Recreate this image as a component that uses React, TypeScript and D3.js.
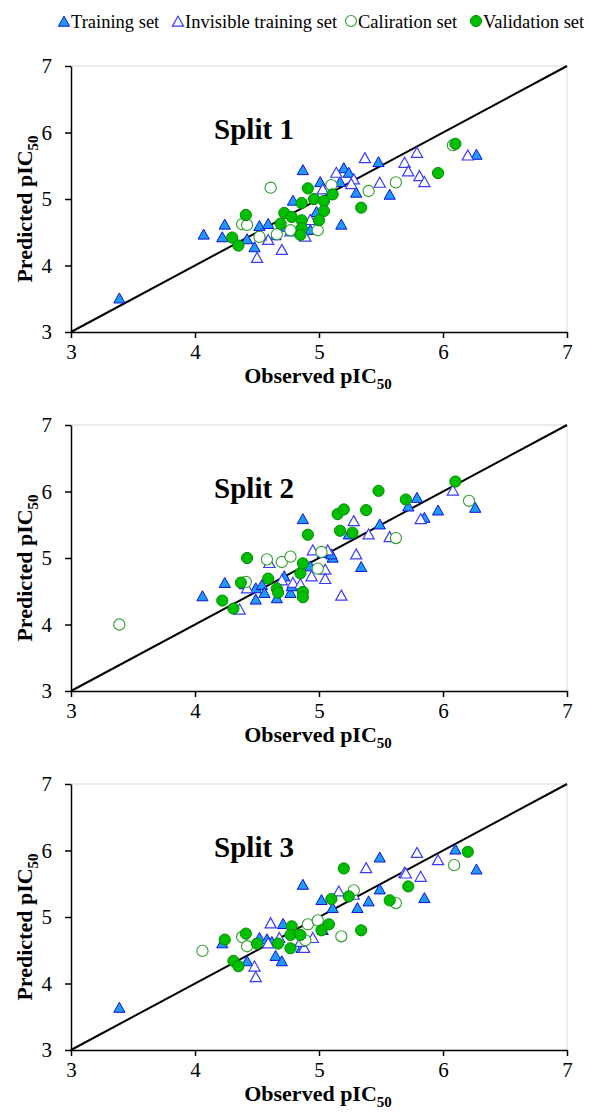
import React, { useEffect, useRef } from "react";
import * as d3 from "d3";

// [observed, predicted] pairs
const split1Training = [[3.39,3.50],[4.07,4.46],[4.24,4.61],[4.22,4.42],[4.42,4.39],[4.48,4.27],[4.52,4.59],[4.59,4.62],[4.65,4.45],[4.79,4.97],[4.87,5.43],[4.93,4.53],[5.01,5.25],[5.18,4.61],[5.17,5.25],[5.20,5.46],[5.24,5.39],[5.30,5.09],[5.48,5.55],[5.57,5.06],[6.27,5.66],[4.70,4.58],[4.98,4.80]];
const split1Invisible = [[4.50,4.11],[4.70,4.23],[4.59,4.38],[4.77,4.51],[4.89,4.43],[4.93,4.68],[5.03,5.14],[5.14,5.39],[5.28,5.29],[5.37,5.61],[5.49,5.24],[5.69,5.54],[5.72,5.41],[5.79,5.69],[5.81,5.34],[5.85,5.25],[6.20,5.65],[4.53,4.45],[5.26,5.22]];
const split1Calibration = [[4.61,5.17],[4.38,4.62],[4.42,4.61],[4.52,4.43],[4.66,4.47],[4.77,4.53],[4.99,4.53],[5.10,5.21],[5.40,5.12],[5.62,5.25],[6.08,5.81]];
const split1Validation = [[4.30,4.42],[4.35,4.30],[4.41,4.76],[4.69,4.63],[4.72,4.79],[4.78,4.73],[4.86,4.94],[4.86,4.68],[4.86,4.56],[4.85,4.46],[4.91,5.16],[4.96,5.00],[5.04,4.97],[5.11,5.07],[5.04,4.82],[5.00,4.68],[5.34,4.87],[5.96,5.39],[6.10,5.83]];

const split2Training = [[4.06,4.42],[4.24,4.62],[4.49,4.37],[4.49,4.54],[4.54,4.59],[4.56,4.47],[4.66,4.39],[4.72,4.72],[4.77,4.47],[4.78,4.57],[4.87,5.58],[4.93,4.87],[5.03,5.07],[5.11,5.00],[5.10,5.05],[5.34,4.86],[5.24,5.35],[5.49,5.50],[5.79,5.90],[5.72,5.77],[5.96,5.71],[5.85,5.60],[6.26,5.75],[4.40,4.60]];
const split2Invisible = [[4.36,4.22],[4.42,4.54],[4.60,4.92],[4.79,4.62],[4.94,4.72],[4.95,5.11],[5.05,4.82],[5.05,4.68],[5.07,5.11],[5.18,4.43],[5.28,5.55],[5.30,5.05],[5.40,5.35],[5.57,5.31],[5.82,5.58],[6.08,6.01],[4.70,4.66],[4.85,4.60]];
const split2Calibration = [[3.39,4.00],[4.41,4.64],[4.58,4.98],[4.70,4.94],[4.77,5.02],[4.99,4.84],[5.02,5.09],[5.62,5.30],[6.21,5.86]];
const split2Validation = [[4.22,4.36],[4.31,4.24],[4.42,5.00],[4.37,4.63],[4.59,4.69],[4.66,4.54],[4.67,4.48],[4.85,4.77],[4.87,4.92],[4.87,4.49],[4.87,4.41],[4.91,5.35],[5.15,5.66],[5.20,5.73],[5.17,5.41],[5.27,5.38],[5.38,5.72],[5.48,6.01],[5.70,5.88],[6.10,6.15]];

const split3Training = [[3.39,3.63],[4.22,4.60],[4.42,4.33],[4.52,4.68],[4.58,4.66],[4.65,4.41],[4.70,4.33],[4.71,4.89],[4.87,5.48],[4.86,4.53],[5.02,5.25],[5.11,5.13],[5.40,5.23],[5.31,5.13],[5.49,5.41],[5.49,5.89],[5.03,4.80],[6.10,6.01],[6.27,5.71],[5.85,5.28],[4.62,4.62]];
const split3Invisible = [[4.49,4.09],[4.48,4.25],[4.61,4.90],[4.59,4.60],[4.68,4.68],[4.88,4.53],[4.95,4.68],[5.16,5.38],[5.28,5.33],[5.38,5.73],[5.69,5.66],[5.79,5.96],[5.96,5.85],[5.70,5.65],[5.82,5.60],[4.85,4.62]];
const split3Calibration = [[4.06,4.49],[4.38,4.70],[4.42,4.56],[4.91,4.89],[4.99,4.95],[4.89,4.65],[5.28,5.40],[5.18,4.71],[5.62,5.21],[6.09,5.78]];
const split3Validation = [[4.24,4.66],[4.31,4.34],[4.35,4.26],[4.41,4.75],[4.50,4.60],[4.67,4.60],[4.78,4.86],[4.77,4.73],[4.77,4.53],[4.85,4.73],[5.02,4.80],[5.08,4.89],[5.10,5.27],[5.24,5.31],[5.20,5.73],[5.34,4.80],[5.57,5.25],[5.72,5.46],[6.20,5.98]];

const splitTitles = ["Split 1", "Split 2", "Split 3"];
const legendLabels = ["Training set", "Invisible training set", "Caliration set", "Validation set"];
const axisTicks = [3, 4, 5, 6, 7];

const splits = [
  [split1Training, split1Invisible, split1Calibration, split1Validation],
  [split2Training, split2Invisible, split2Calibration, split2Validation],
  [split3Training, split3Invisible, split3Calibration, split3Validation],
];

const FONT = "'Times New Roman', 'Liberation Serif', serif";

function triPath(cx: number, cy: number) {
  return `M${cx},${cy - 5.8}L${cx + 5.6},${cy + 4.2}L${cx - 5.6},${cy + 4.2}Z`;
}

function styleMarker(sel: any, kind: number) {
  if (kind === 0) sel.attr("fill", "#1e9bf8").attr("stroke", "#1010e0").attr("stroke-width", 1);
  if (kind === 1) sel.attr("fill", "white").attr("stroke", "#3a3aff").attr("stroke-width", 1.2);
  if (kind === 2) sel.attr("fill", "white").attr("stroke", "#2f9e2f").attr("stroke-width", 1.1);
  if (kind === 3) sel.attr("fill", "#00bf00").attr("stroke", "#008a00").attr("stroke-width", 1);
}

export default function App() {
  const ref = useRef<SVGSVGElement>(null);

  useEffect(() => {
    const svg = d3.select(ref.current);
    svg.selectAll("*").remove();

    // legend
    const legendX = [64, 178, 351, 476];
    const lg = svg.append("g");
    legendLabels.forEach((lab, i) => {
      const cx = legendX[i];
      const m = i < 2
        ? lg.append("path").attr("d", triPath(cx, 22))
        : lg.append("circle").attr("cx", cx).attr("cy", 21).attr("r", 5.5);
      styleMarker(m, i);
      lg.append("text").attr("x", cx + 7).attr("y", 28)
        .style("font-family", FONT).style("font-size", "18.5px").text(lab);
    });

    const left = 71, right = 567, plotH = 266;
    const x = d3.scaleLinear().domain([3, 7]).range([left, right]);

    splits.forEach((series, p) => {
      const top = 66 + p * 359;
      const y = d3.scaleLinear().domain([3, 7]).range([top + plotH, top]);
      const g = svg.append("g");

      // faint plot frame on top and right
      g.append("path")
        .attr("d", `M${left},${top}H${right}V${top + plotH}`)
        .attr("fill", "none").attr("stroke", "#d9d9d9").attr("stroke-width", 1);

      const xa = g.append("g").attr("transform", `translate(0,${top + plotH})`)
        .call(d3.axisBottom(x).tickValues(axisTicks).tickFormat(d3.format("d")).tickSize(6).tickSizeOuter(0).tickPadding(6));
      const ya = g.append("g").attr("transform", `translate(${left},0)`)
        .call(d3.axisLeft(y).tickValues(axisTicks).tickFormat(d3.format("d")).tickSize(6).tickSizeOuter(0).tickPadding(13));
      [xa, ya].forEach(a => {
        a.selectAll("path, line").attr("stroke", "#000").attr("stroke-width", 1.5);
        a.selectAll("text").style("font-family", FONT).style("font-size", "21px").attr("fill", "#000");
      });

      // y = x line
      g.append("line")
        .attr("x1", x(3)).attr("y1", y(3)).attr("x2", x(7)).attr("y2", y(7))
        .attr("stroke", "#000").attr("stroke-width", 2);

      series.forEach((pts, k) => {
        const sel = k < 2
          ? g.selectAll(null).data(pts).join("path").attr("d", (d: number[]) => triPath(x(d[0]), y(d[1])))
          : g.selectAll(null).data(pts).join("circle")
              .attr("cx", (d: number[]) => x(d[0])).attr("cy", (d: number[]) => y(d[1])).attr("r", 5.6);
        styleMarker(sel, k);
      });

      // panel title
      g.append("text").attr("x", 254).attr("y", top + 73).attr("text-anchor", "middle")
        .style("font-family", FONT).style("font-size", "29px").style("font-weight", "bold")
        .text(splitTitles[p]);

      // x title
      const xt = g.append("text").attr("x", 318).attr("y", top + plotH + 51).attr("text-anchor", "middle")
        .style("font-family", FONT).style("font-size", "22px").style("font-weight", "bold");
      xt.append("tspan").text("Observed pIC");
      xt.append("tspan").attr("dy", 6).style("font-size", "15px").text("50");

      // y title
      const yt = g.append("text")
        .attr("transform", `translate(32,${top + plotH / 2 + 10}) rotate(-90)`)
        .attr("text-anchor", "middle")
        .style("font-family", FONT).style("font-size", "22px").style("font-weight", "bold");
      yt.append("tspan").text("Predicted pIC");
      yt.append("tspan").attr("dy", 6).style("font-size", "15px").text("50");
    });
  }, []);

  return (
    <svg ref={ref} width={589} height={1114}
      style={{ position: "absolute", left: 0, top: 0, background: "white" }} />
  );
}
